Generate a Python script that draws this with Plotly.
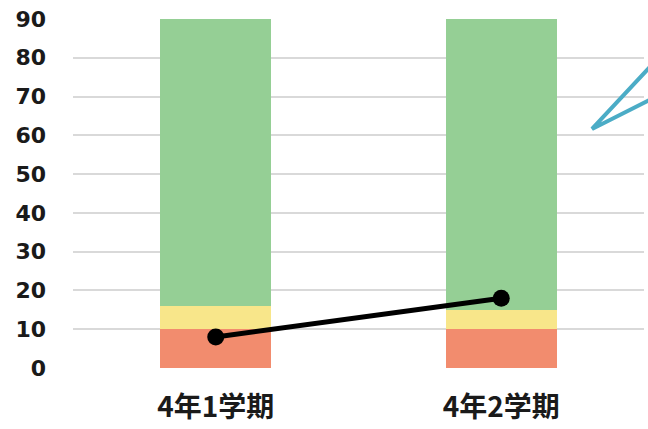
import plotly.graph_objects as go

# Terms (categories) and stacked band values
terms = ["4年1学期", "4年2学期"]
band_low = [10, 10]      # red band
band_mid = [6, 5]        # yellow band
band_high = [74, 75]     # green band
scores = [8, 18]         # line series
y_ticks = [0, 10, 20, 30, 40, 50, 60, 70, 80, 90]

cjk_font = "Noto Sans CJK JP"

fig = go.Figure()
fig.add_trace(go.Bar(x=terms, y=band_low, marker=dict(color="#F28C6E", line=dict(width=0)), width=0.39))
fig.add_trace(go.Bar(x=terms, y=band_mid, marker=dict(color="#F8E68A", line=dict(width=0)), width=0.39))
fig.add_trace(go.Bar(x=terms, y=band_high, marker=dict(color="#95CF95", line=dict(width=0)), width=0.39))
fig.add_trace(go.Scatter(x=terms, y=scores, mode="lines+markers",
                         line=dict(color="#000000", width=5),
                         marker=dict(color="#000000", size=17),
                         cliponaxis=False))

# Callout pointer on the right edge
fig.add_shape(type="path", xref="paper", yref="paper",
              path="M 1.01 0.862 L 0.909 0.685 L 1.01 0.768",
              line=dict(color="#4BACC6", width=4))

fig.update_layout(
    width=648, height=429,
    margin=dict(l=73, r=4, t=19, b=61),
    barmode="stack",
    showlegend=False,
    plot_bgcolor="#FFFFFF",
    paper_bgcolor="#FFFFFF",
    font=dict(family=cjk_font, color="#111111"),
)
fig.update_xaxes(
    showgrid=False, zeroline=False, showline=False, automargin=False,
    tickfont=dict(size=28, weight="bold", family=cjk_font, color="#1a1a1a"),
    ticks="", ticklabelstandoff=20,
)
fig.update_yaxes(
    range=[0, 90], tickvals=y_ticks, automargin=False,
    showgrid=True, gridcolor="#D9D9D9", gridwidth=2,
    zeroline=False, showline=False,
    tickfont=dict(size=22, weight="bold", family="DejaVu Sans", color="#1a1a1a"),
    ticks="", ticklabelstandoff=26,
)

fig.write_html("out.html")
